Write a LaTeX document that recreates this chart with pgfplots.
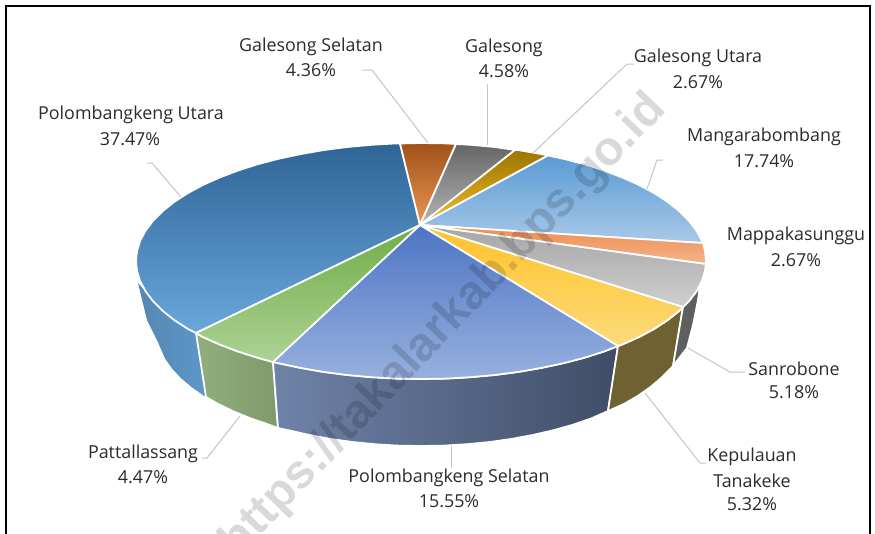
\documentclass[border=0pt]{standalone}
\usepackage{pgfplots}
\pgfplotsset{compat=1.18}
\usepackage{fontspec}
\setmainfont{Open Sans}
\newfontfamily\wmfont{Liberation Sans}
\definecolor{lbl}{HTML}{2B2B2B}
\definecolor{lead}{HTML}{C4C4C4}
\definecolor{puT}{HTML}{2F6496}\definecolor{puB}{HTML}{6AA7DB}
\definecolor{gsT}{HTML}{A0521A}\definecolor{gsB}{HTML}{EB9553}
\definecolor{gaT}{HTML}{656565}\definecolor{gaB}{HTML}{B5B5B5}
\definecolor{guT}{HTML}{9A7500}\definecolor{guB}{HTML}{F4BD2A}
\definecolor{maT}{HTML}{5B9BD5}\definecolor{maB}{HTML}{A8C9E8}
\definecolor{mpT}{HTML}{ED8C4E}\definecolor{mpB}{HTML}{F4B58D}
\definecolor{saT}{HTML}{A5A5A5}\definecolor{saB}{HTML}{CFCFCF}
\definecolor{keT}{HTML}{FFC22A}\definecolor{keB}{HTML}{FBDB7A}
\definecolor{psT}{HTML}{4E75C4}\definecolor{psM}{HTML}{7F9BD5}\definecolor{psB}{HTML}{97B0DE}
\definecolor{paT}{HTML}{70AD47}\definecolor{paB}{HTML}{ADD295}
\definecolor{wpuL}{HTML}{5587B2}\definecolor{wpuR}{HTML}{5E97C9}
\definecolor{wpaL}{HTML}{91AF7D}\definecolor{wpaR}{HTML}{7F9A6D}
\definecolor{wpsL}{HTML}{6F83A9}\definecolor{wpsR}{HTML}{3F4D66}
\definecolor{wke}{HTML}{6F6131}
\definecolor{wsa}{HTML}{5F5F5F}
\tikzset{lab/.style={font=\fontsize{13.4pt}{15pt}\selectfont,text=lbl,inner sep=0pt,anchor=center}}
\pgfplotsset{slice/.style={draw=white,line width=1.3pt,line join=round,no marks,forget plot},
  leader/.style={draw=lead,line width=0.75pt,no marks,forget plot}}
\begin{document}
\begin{tikzpicture}
\clip[use as bounding box] (0,0) rectangle (656.25pt,399.75pt);
\begin{axis}[at={(0,0)},anchor=south west,scale only axis,width=656.25pt,height=399.75pt,
  xmin=0,xmax=875,ymin=0,ymax=533,y dir=reverse,hide axis,clip=false]
% frame
\addplot[black,line width=1.5pt,no marks,forget plot] coordinates {(6,545) (6,6) (870,6) (870,545)};
% side walls
\addplot[draw=none,no marks,forget plot,left color=wpuL,right color=wpuR] coordinates {
(138,283) (147,320) (157,340) (165,358.5) (172,368.4) (180.8,377.9) (191.5,387) (203.9,395.7) (206,397)
(196,333) (187.5,328.7) (174.2,320) (162.7,310.9) (153.2,301.4) (145.7,291.5)} --cycle;
\addplot[slice,left color=wpaL,right color=wpaR] coordinates {
(196,333) (206,397) (218,403.9) (233.6,411.4) (250.7,418.4) (269,424.7) (278,428)
(273,362) (257.5,357.7) (237.8,351.4) (219.5,344.4) (202.7,336.9)} --cycle;
\addplot[slice,left color=wpsL,right color=wpsR] coordinates {
(273,362) (278,428) (288.5,430.2) (309,434.9) (330.4,438.9) (352.4,442) (375,444.2) (397.9,445.6) (421,446) (444.1,445.6) (467,444.2) (489.6,442) (511.6,438.9) (533,434.9) (553.5,430.2) (573,424.7) (591.3,418.4) (608,411)
(618,346) (604.2,351.4) (584.5,357.7) (563.5,363.2) (541.4,367.9) (518.5,371.9) (494.8,375) (470.5,377.2) (445.8,378.6) (421,379) (396.2,378.6) (371.5,377.2) (347.2,375) (323.5,371.9) (300.6,367.9) (278.5,363.2)} --cycle;
\addplot[slice,fill=wke] coordinates {
(618,346) (608,411) (624,403.9) (638.1,395.7) (650.5,387) (661.2,377.9) (673,366)
(683,307) (679.3,310.9) (667.8,320) (654.5,328.7) (639.3,336.9) (622.5,344.4)} --cycle;
\addplot[slice,fill=wsa] coordinates {
(683,307) (673,366) (687,348) (693,325) (698,300) (700,285) (696.3,291.5) (688.8,301.4)} --cycle;
% top faces
\addplot[slice,top color=puT,bottom color=puB] coordinates {(420,225) (196,333) (187.5,328.7) (174.2,320) (162.7,310.9) (153.2,301.4) (145.7,291.5) (140.3,281.5) (137.1,271.3) (136,261) (137.1,250.7) (140.3,240.5) (145.7,230.5) (153.2,220.6) (162.7,211.1) (174.2,202) (187.5,193.3) (202.7,185.1) (219.5,177.6) (237.8,170.6) (257.5,164.3) (278.5,158.8) (300.6,154.1) (323.5,150.1) (347.2,147) (371.5,144.8) (396.2,143.4) (400,143.5)} --cycle;
\addplot[slice,top color=gsT,bottom color=gsB] coordinates {(420,225) (400,143.5) (421,143) (445.8,143.4) (456,144)} --cycle;
\addplot[slice,top color=gaT,bottom color=gaB] coordinates {(420,225) (456,144) (470.5,144.8) (494.8,147) (515,150)} --cycle;
\addplot[slice,top color=guT,bottom color=guB] coordinates {(420,225) (515,150) (518.5,150.1) (541.4,154.1) (548,155.5)} --cycle;
\addplot[slice,top color=maT,bottom color=maB] coordinates {(420,225) (548,155.5) (563.5,158.8) (584.5,164.3) (604.2,170.6) (622.5,177.6) (639.3,185.1) (654.5,193.3) (667.8,202) (679.3,211.1) (688.8,220.6) (696.3,230.5) (701.7,240.5) (703,243)} --cycle;
\addplot[slice,top color=mpT,bottom color=mpB] coordinates {(420,225) (703,243) (704.9,250.7) (706,261) (705.8,264)} --cycle;
\addplot[slice,top color=saT,bottom color=saB] coordinates {(420,225) (705.8,264) (704.9,271.3) (701.7,281.5) (696.3,291.5) (688.8,301.4) (683,307)} --cycle;
\addplot[slice,top color=keT,bottom color=keB] coordinates {(420,225) (683,307) (679.3,310.9) (667.8,320) (654.5,328.7) (639.3,336.9) (622.5,344.4) (618,346)} --cycle;
\addplot[slice,top color=psT,middle color=psM,bottom color=psB] coordinates {(420,225) (618,346) (604.2,351.4) (584.5,357.7) (563.5,363.2) (541.4,367.9) (518.5,371.9) (494.8,375) (470.5,377.2) (445.8,378.6) (421,379) (396.2,378.6) (371.5,377.2) (347.2,375) (323.5,371.9) (300.6,367.9) (278.5,363.2) (273,362)} --cycle;
\addplot[slice,top color=paT,bottom color=paB] coordinates {(420,225) (273,362) (257.5,357.7) (237.8,351.4) (219.5,344.4) (202.7,336.9) (196,333)} --cycle;
% leader lines
\addplot[leader] coordinates {(147,163) (152,163) (181,197)};
\addplot[leader] coordinates {(362,70) (372,70) (428,143)};
\addplot[leader] coordinates {(487,84) (487,145)};
\addplot[leader] coordinates {(634,64) (627,64) (533,153)};
\addplot[leader] coordinates {(663,160) (657,160) (647,189)};
\addplot[leader] coordinates {(688,348) (730,372) (745,372)};
\addplot[leader] coordinates {(645,393) (700,463) (706,463)};
\addplot[leader] coordinates {(451,446) (451,468)};
\addplot[leader] coordinates {(240,416) (207,458) (202,458)};
% watermark
\node[rotate=46.3,font=\wmfont\bfseries\fontsize{35.8pt}{40pt}\selectfont,text=black,text opacity=0.15,inner sep=0pt,anchor=center] at (axis cs:444,326) {https://takalarkab.bps.go.id};
% labels
\node[lab] at (axis cs:311,47) {Galesong Selatan};
\node[lab] at (axis cs:311,70) {4.36\%};
\node[lab] at (axis cs:504,48) {Galesong};
\node[lab] at (axis cs:504,71) {4.58\%};
\node[lab] at (axis cs:698,58) {Galesong Utara};
\node[lab] at (axis cs:698,82) {2.67\%};
\node[lab] at (axis cs:131,115) {Polombangkeng Utara};
\node[lab] at (axis cs:130,139) {37.47\%};
\node[lab] at (axis cs:764,137) {Mangarabombang};
\node[lab] at (axis cs:764,161) {17.74\%};
\node[lab] at (axis cs:796,236) {Mappakasunggu};
\node[lab] at (axis cs:796,260) {2.67\%};
\node[lab] at (axis cs:794,369) {Sanrobone};
\node[lab] at (axis cs:794,392) {5.18\%};
\node[lab] at (axis cs:752,457) {Kepulauan};
\node[lab] at (axis cs:752,481) {Tanakeke};
\node[lab] at (axis cs:752,504) {5.32\%};
\node[lab] at (axis cs:143,454) {Pattallassang};
\node[lab] at (axis cs:143,477) {4.47\%};
\node[lab] at (axis cs:449,478) {Polombangkeng Selatan};
\node[lab] at (axis cs:449,501) {15.55\%};
\end{axis}
\end{tikzpicture}
\end{document}
